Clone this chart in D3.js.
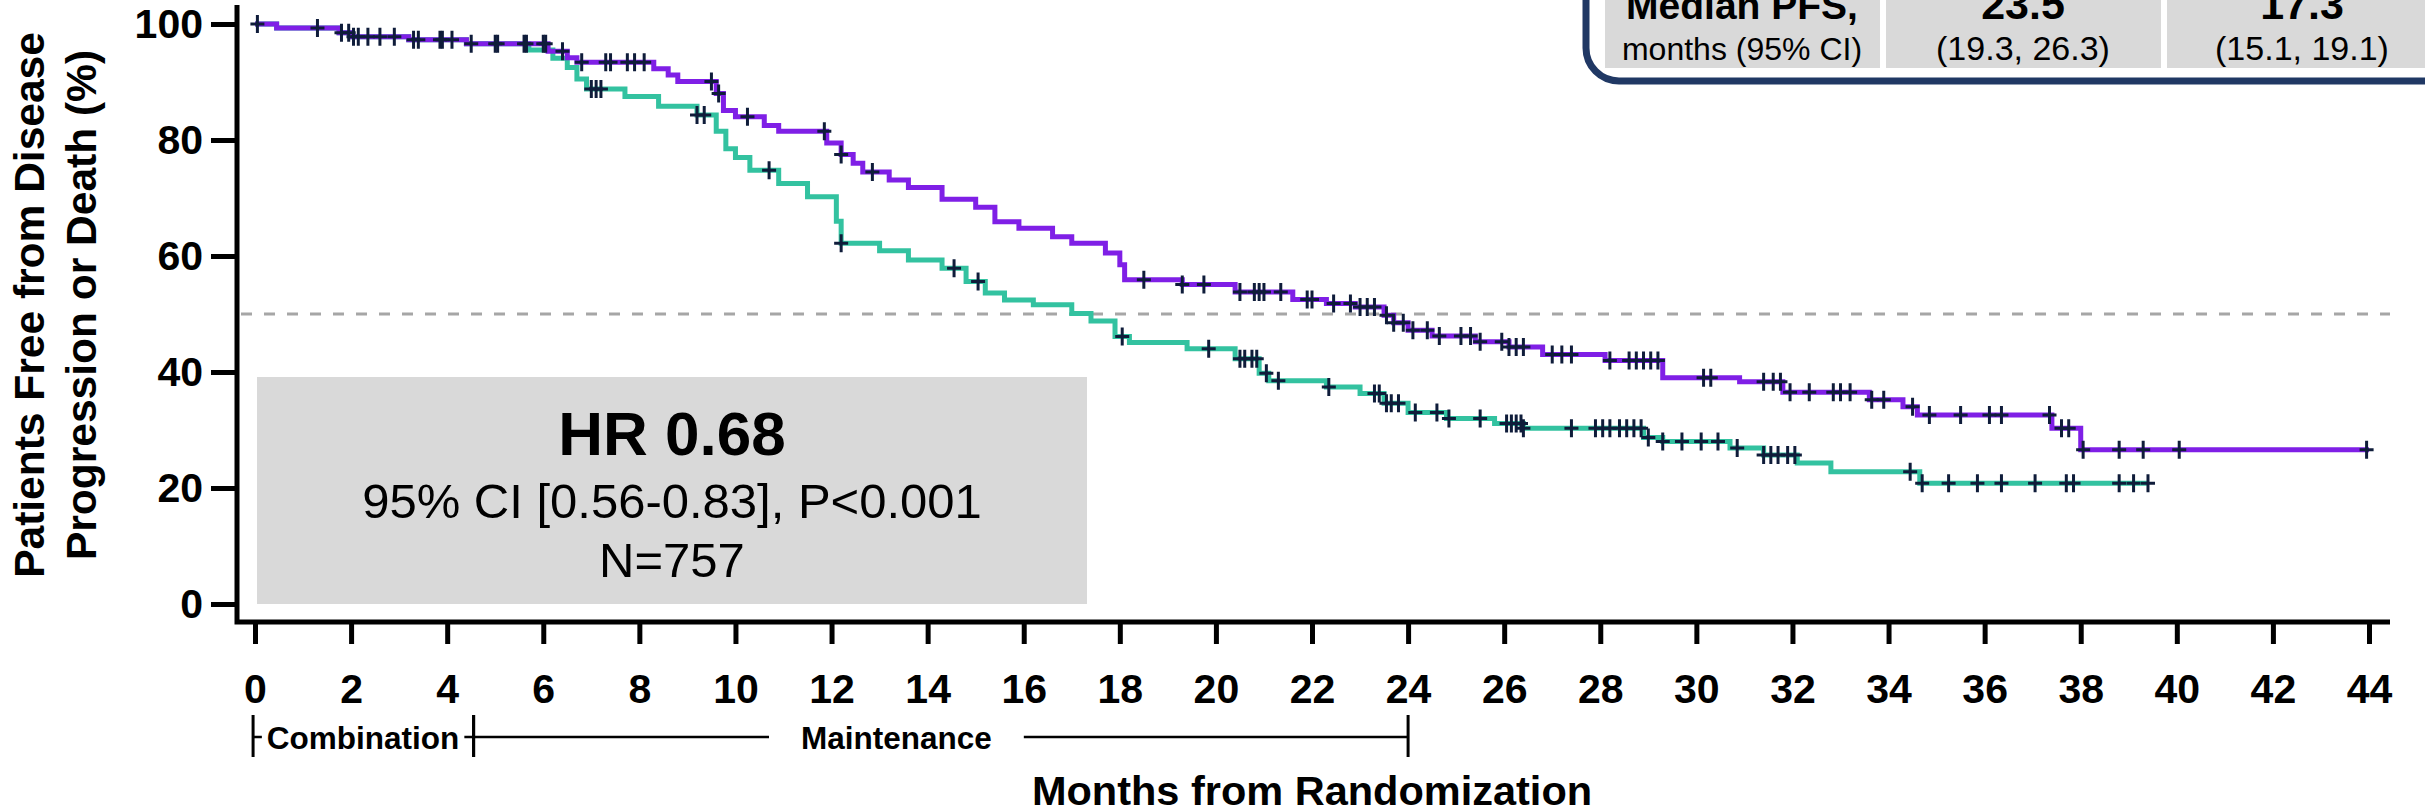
<!DOCTYPE html>
<html>
<head>
<meta charset="utf-8">
<script src="https://cdn.jsdelivr.net/npm/d3@7"></script>
<style>
  html, body { margin: 0; padding: 0; background: #ffffff; }
  svg { display: block; }
  text { font-family: "Liberation Sans", Arial, Helvetica, sans-serif; fill: #000; }
</style>
</head>
<body>
<svg id="chart" width="2425" height="811"></svg>
<script>
// ---- data -------------------------------------------------------------
const xTicks = [0, 2, 4, 6, 8, 10, 12, 14, 16, 18, 20, 22, 24, 26, 28, 30, 32, 34, 36, 38, 40, 42, 44];
const yTicks = [0, 20, 40, 60, 80, 100];

// Kaplan–Meier steps: time of each drop (months) and survival after it (%)
const armATimes = [0, 0.45, 1.75, 2.0, 3.2, 4.4, 6.1, 6.5, 6.7, 8.3, 8.6, 8.8, 9.6, 9.75, 10.0, 10.6, 10.9, 11.9, 12.2, 12.45, 12.65, 13.2, 13.6, 14.3, 15.0, 15.4, 15.9, 16.6, 17.0, 17.7, 18.0, 18.1, 19.3, 20.4, 21.6, 22.3, 22.9, 23.5, 23.7, 24.0, 24.5, 25.4, 26.1, 26.8, 28.1, 29.3, 30.9, 31.8, 33.6, 34.3, 34.6, 37.4, 38.0];
const armASurv  = [100, 99.3, 98.5, 97.8, 97.3, 96.6, 95.3, 94.2, 93.4, 92.3, 91.2, 90.1, 88.0, 85.1, 84.0, 82.5, 81.5, 79.5, 77.5, 76.0, 74.5, 73.1, 71.8, 69.8, 68.4, 65.9, 64.8, 63.3, 62.2, 60.5, 58.5, 55.9, 55.1, 53.8, 52.5, 51.8, 51.2, 49.8, 48.5, 47.2, 46.2, 45.2, 44.3, 43.0, 42.0, 39.0, 38.3, 36.5, 35.2, 34.0, 32.6, 30.3, 26.6];
const armAEnd = 44.0;
const armACensor = [0.05, 1.3, 1.8, 1.95, 2.05, 2.15, 2.35, 2.6, 2.9, 3.3, 3.4, 3.85, 3.9, 4.1, 4.5, 5.0, 5.05, 5.6, 5.65, 6.0, 6.05, 6.4, 6.8, 7.3, 7.4, 7.75, 7.9, 8.1, 9.5, 9.65, 10.25, 11.85, 12.2, 12.85, 18.5, 19.3, 19.75, 20.5, 20.8, 20.9, 21.0, 21.35, 21.9, 22.0, 22.45, 22.8, 23.0, 23.15, 23.3, 23.55, 23.7, 23.9, 24.1, 24.4, 24.65, 25.1, 25.3, 25.5, 25.95, 26.1, 26.25, 26.4, 27.0, 27.2, 27.4, 28.2, 28.6, 28.75, 28.9, 29.05, 29.2, 30.15, 30.3, 31.4, 31.6, 31.75, 31.95, 32.35, 32.85, 33.0, 33.2, 33.65, 33.9, 34.5, 34.85, 35.5, 36.1, 36.35, 37.35, 37.6, 37.75, 38.05, 38.8, 39.3, 40.05, 43.95];

const armBTimes = [0, 0.45, 1.75, 2.0, 3.2, 4.4, 5.7, 6.2, 6.5, 6.7, 6.9, 7.7, 8.4, 9.2, 9.6, 9.8, 10.0, 10.3, 10.9, 11.5, 12.1, 12.2, 13.0, 13.6, 14.3, 14.8, 15.2, 15.6, 16.2, 17.0, 17.4, 17.9, 18.2, 19.4, 20.4, 20.9, 21.1, 22.3, 23.0, 23.5, 24.0, 24.8, 25.8, 26.4, 28.9, 29.3, 30.7, 31.4, 32.1, 32.8, 34.65];
const armBSurv  = [100, 99.3, 98.5, 97.8, 97.3, 96.6, 95.5, 94.1, 92.5, 90.5, 88.8, 87.5, 85.8, 84.3, 81.5, 78.5, 77.0, 74.8, 72.5, 70.2, 66.0, 62.2, 60.9, 59.3, 57.9, 55.6, 53.6, 52.4, 51.6, 50.1, 48.8, 46.1, 45.1, 44.0, 42.3, 39.8, 38.5, 37.4, 36.3, 34.6, 33.0, 32.0, 31.1, 30.3, 28.7, 28.0, 26.9, 25.7, 24.3, 22.8, 20.8];
const armBEnd = 39.4;
const armBCensor = [7.0, 7.1, 7.2, 9.2, 9.35, 10.7, 12.2, 14.55, 15.05, 18.05, 19.85, 20.5, 20.6, 20.75, 20.85, 21.05, 21.3, 22.35, 23.3, 23.4, 23.55, 23.65, 23.8, 24.15, 24.6, 24.85, 25.5, 26.05, 26.15, 26.25, 26.35, 26.4, 27.4, 27.9, 28.05, 28.2, 28.4, 28.55, 28.7, 28.85, 29.0, 29.3, 29.7, 30.1, 30.45, 30.85, 31.4, 31.55, 31.7, 31.9, 32.05, 34.45, 34.7, 35.25, 35.85, 36.35, 37.05, 37.7, 37.85, 38.8, 39.1, 39.4];

const medianLine = 50;

const phaseNames  = ["Combination", "Maintenance"];
const phaseStarts = [-0.04, 4.55];
const phaseEnds   = [4.55, 24];
const phaseLabelAt = [2.25, 13.35];

const statLines = ["HR 0.68", "95% CI [0.56-0.83], P<0.001", "N=757"];
const tableTop    = ["Median PFS,", "23.5", "17.3"];
const tableBottom = ["months (95% CI)", "(19.3, 26.3)", "(15.1, 19.1)"];

const yTitleLines = ["Patients Free from Disease", "Progression or Death (%)"];
const xTitle = "Months from Randomization";

// ---- styling ----------------------------------------------------------
const colorA = "#7f1fe6";
const colorB = "#33c2a0";
const censorColor = "#0f1c3a";

// ---- scales -----------------------------------------------------------
const svg = d3.select("#chart");
const x = d3.scaleLinear().domain([0, 44]).range([255, 2369]);
const y = d3.scaleLinear().domain([0, 100]).range([604, 24]);
const axisX = 237;   // vertical axis line position
const axisY = 622;   // horizontal axis line position

// ---- stats box (behind curves) ----------------------------------------
const box = svg.append("g");
box.append("rect")
  .attr("x", 257).attr("y", 377).attr("width", 830).attr("height", 227)
  .attr("fill", "#d9d9d9");
const statY = [455, 518, 577];
const statSize = [62, 49, 49];
const statWeight = ["bold", "normal", "normal"];
statLines.forEach((s, i) => {
  box.append("text")
    .attr("x", 672).attr("y", statY[i])
    .attr("text-anchor", "middle")
    .attr("font-size", statSize[i])
    .attr("font-weight", statWeight[i])
    .text(s);
});

// ---- 50% reference line -----------------------------------------------
svg.append("line")
  .attr("x1", axisX + 4).attr("x2", 2390)
  .attr("y1", y(medianLine)).attr("y2", y(medianLine))
  .attr("stroke", "#a6a6a6").attr("stroke-width", 3)
  .attr("stroke-dasharray", "11 12");

// ---- axes -------------------------------------------------------------
const yAxis = d3.axisLeft(y).tickValues(yTicks).tickSize(26).tickPadding(8);
const gy = svg.append("g").attr("transform", `translate(${axisX},0)`).call(yAxis);
gy.select(".domain").remove();
gy.selectAll(".tick line").attr("stroke", "#000").attr("stroke-width", 5);
gy.selectAll(".tick text").attr("font-size", 41).attr("font-weight", "bold")
  .attr("font-family", "Liberation Sans, Arial, sans-serif").attr("fill", "#000");

const xAxis = d3.axisBottom(x).tickValues(xTicks).tickSize(22).tickPadding(30);
const gx = svg.append("g").attr("transform", `translate(0,${axisY})`).call(xAxis);
gx.select(".domain").remove();
gx.selectAll(".tick line").attr("stroke", "#000").attr("stroke-width", 5);
gx.selectAll(".tick text").attr("font-size", 41).attr("font-weight", "bold")
  .attr("font-family", "Liberation Sans, Arial, sans-serif").attr("fill", "#000");

// axis lines meeting at the corner
svg.append("path")
  .attr("d", `M${axisX},5 V${axisY} H2390`)
  .attr("fill", "none").attr("stroke", "#000").attr("stroke-width", 5)
  .attr("stroke-linejoin", "miter");

// ---- survival curves --------------------------------------------------
function stepPoints(times, surv, end) {
  const pts = times.map((t, i) => [t, surv[i]]);
  pts.push([end, surv[surv.length - 1]]);
  return pts;
}
function survAt(times, surv, t) {
  const i = d3.bisectRight(times, t) - 1;
  return surv[Math.max(0, i)];
}
const line = d3.line().x(d => x(d[0])).y(d => y(d[1])).curve(d3.curveStepAfter);

const arms = [
  { times: armBTimes, surv: armBSurv, end: armBEnd, censor: armBCensor, color: colorB },
  { times: armATimes, surv: armASurv, end: armAEnd, censor: armACensor, color: colorA }
];

arms.forEach(a => {
  svg.append("path")
    .datum(stepPoints(a.times, a.surv, a.end))
    .attr("d", line)
    .attr("fill", "none")
    .attr("stroke", a.color)
    .attr("stroke-width", 5);
});
arms.forEach(a => {
  svg.append("g").selectAll("path")
    .data(a.censor)
    .join("path")
    .attr("d", t => {
      const cx = x(t), cy = y(survAt(a.times, a.surv, t));
      return `M${cx - 7},${cy} H${cx + 7} M${cx},${cy - 9} V${cy + 9}`;
    })
    .attr("stroke", censorColor)
    .attr("stroke-width", 3)
    .attr("fill", "none");
});

// ---- treatment phase brackets -----------------------------------------
const phaseY = 737;
const ph = svg.append("g");
phaseNames.forEach((name, i) => {
  const x0 = x(phaseStarts[i]), x1 = x(phaseEnds[i]);
  ph.append("line").attr("x1", x0).attr("x2", x1).attr("y1", phaseY).attr("y2", phaseY)
    .attr("stroke", "#000").attr("stroke-width", 2.6);
  [x0, x1].forEach(px => {
    ph.append("line").attr("x1", px).attr("x2", px).attr("y1", 715).attr("y2", 757)
      .attr("stroke", "#000").attr("stroke-width", 3);
  });
});
phaseNames.forEach((name, i) => {
  const t = ph.append("text")
    .attr("x", x(phaseLabelAt[i])).attr("y", 749)
    .attr("text-anchor", "middle")
    .attr("font-size", 31.5).attr("font-weight", "bold")
    .text(name);
  const bb = t.node().getBBox();
  const pad = i === 0 ? 5 : 32;
  ph.insert("rect", "text")
    .attr("x", bb.x - pad).attr("y", phaseY - 4)
    .attr("width", bb.width + 2 * pad).attr("height", 8)
    .attr("fill", "#fff");
});

// ---- axis titles ------------------------------------------------------
svg.append("text")
  .attr("x", 1312).attr("y", 805)
  .attr("text-anchor", "middle")
  .attr("font-size", 41.5).attr("font-weight", "bold")
  .text(xTitle);

const yTitleBase = [44, 96];
yTitleLines.forEach((s, i) => {
  svg.append("text")
    .attr("transform", `translate(${yTitleBase[i]},305) rotate(-90)`)
    .attr("text-anchor", "middle")
    .attr("font-size", 42.5).attr("font-weight", "bold")
    .text(s);
});

// ---- median PFS table -------------------------------------------------
const tbl = svg.append("g");
tbl.append("path")
  .attr("d", "M1586,-10 V48 A33,33 0 0 0 1619,81 H2440")
  .attr("fill", "none").attr("stroke", "#203864").attr("stroke-width", 7);
const cellX = [1605, 1886, 2167];
const cellW = [275, 275, 275];
const cellCx = [1742, 2023, 2302];
const topSize = [39, 43, 43];
const bottomSize = [32, 34, 34];
cellX.forEach((cx, i) => {
  tbl.append("rect").attr("x", cx).attr("y", -10).attr("width", cellW[i]).attr("height", 78)
    .attr("fill", "#d9d9d9");
  tbl.append("text").attr("x", cellCx[i]).attr("y", 19)
    .attr("text-anchor", "middle").attr("font-size", topSize[i]).attr("font-weight", "bold")
    .text(tableTop[i]);
  tbl.append("text").attr("x", cellCx[i]).attr("y", 60)
    .attr("text-anchor", "middle").attr("font-size", bottomSize[i])
    .text(tableBottom[i]);
});
</script>
</body>
</html>
